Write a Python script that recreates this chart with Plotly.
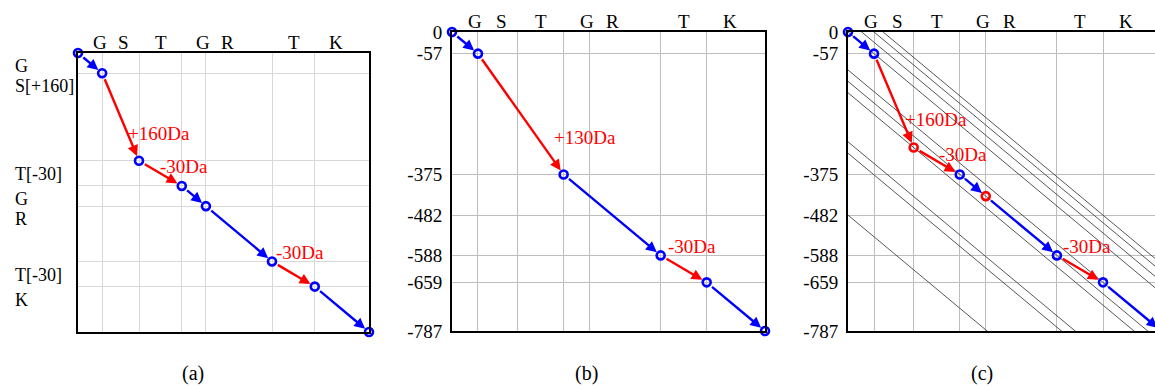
import plotly.graph_objects as go

# ---------------- data ----------------
residues = ["G", "S", "T", "G", "R", "T", "K"]
theo_prefix = [0, 57, 144, 245, 302, 458, 559, 687]      # theoretical prefix masses (x axis)
mod_prefix = [0, 57, 304, 375, 432, 588, 659, 787]       # modified prefix masses
row_labels_a = ["G", "S[+160]", "T[-30]", "G", "R", "T[-30]", "K"]
seg_colors_a = ["blue", "red", "red", "blue", "blue", "red", "blue"]
marker_colors_a = ["blue"] * 8

b_x = [0, 57, 245, 458, 559, 687]
b_y = [0, 57, 375, 588, 659, 787]
seg_colors_b = ["blue", "red", "blue", "red", "blue"]
spectrum_peaks = [0, 57, 375, 482, 588, 659, 787]

c_x = [0, 57, 144, 245, 302, 458, 559, 687]
c_y = [0, 57, 304, 375, 432, 588, 659, 787]
seg_colors_c = ["blue", "red", "red", "blue", "blue", "red", "blue"]
marker_colors_c = ["blue", "blue", "red", "blue", "red", "blue", "blue", "blue"]
diag_offsets_c = [0, -30, -57, -77, 100, 130, 160, 289, 319, 482]

# (text, segment index, anchor at 'start'/'end', xshift, yshift)
mod_labels_a = [("+160Da", 1, "end", 20, 27), ("-30Da", 2, "end", 2, 19), ("-30Da", 5, "start", 28, 9)]
mod_labels_b = [("+130Da", 1, "end", 21, 37), ("-30Da", 3, "start", 31, 9)]
mod_labels_c = [("+160Da", 1, "end", 22, 28), ("-30Da", 2, "end", 3, 20), ("-30Da", 5, "start", 30, 9)]

label_offset_x = 51   # Da offset of residue letters inside each column
label_offset_y = 37   # Da offset of row labels inside each row
captions = ["(a)", "(b)", "(c)"]

# ---------------- figure ----------------
W, H = 1155, 386
FONT = '"Liberation Serif", "DejaVu Serif", serif'
fig = go.Figure()

domains_x = [(78 / W, 369 / W), (452 / W, 765 / W), (848 / W, 1.0)]
domains_y = [((H - 332) / H, (H - 53) / H), ((H - 331) / H, (H - 32) / H), ((H - 331) / H, (H - 32) / H)]
x_ranges = [[0, 687], [0, 687], [0, 673]]
grid_cols = ["#d8d8d8", "#bdbdbd", "#bdbdbd"]

annotations = []

def add_panel(k, xs, ys, seg_colors, marker_colors, labels, diag=None):
    xa = "x" if k == 0 else f"x{k+1}"
    ya = "y" if k == 0 else f"y{k+1}"
    if diag:
        for c in diag:
            fig.add_trace(go.Scatter(x=[-900, 1700], y=[-(-900 + c), -(1700 + c)], mode="lines",
                                     line=dict(color="#444444", width=0.9), xaxis=xa, yaxis=ya,
                                     hoverinfo="skip", showlegend=False))
    for i, col in enumerate(seg_colors):
        annotations.append(dict(x=xs[i + 1], y=-ys[i + 1], ax=xs[i], ay=-ys[i], xref=xa, yref=ya,
                                axref=xa, ayref=ya, text="", showarrow=True, arrowhead=2,
                                arrowsize=0.9, arrowwidth=2.4, arrowcolor=col, standoff=5,
                                startstandoff=5))
    fig.add_trace(go.Scatter(x=xs, y=[-v for v in ys], mode="markers", xaxis=xa, yaxis=ya,
                             marker=dict(symbol="circle-open", size=8, color=marker_colors,
                                         line=dict(width=2.6)),
                             cliponaxis=False, hoverinfo="skip", showlegend=False))
    for text, si, where, dx, dy in labels:
        j = si + 1 if where == "end" else si
        annotations.append(dict(x=xs[j], y=-ys[j], xref=xa, yref=ya, text=text, showarrow=False,
                                xshift=dx, yshift=dy, font=dict(family=FONT, size=19, color="red")))
    # residue letters along the top
    for r, x0 in zip(residues, theo_prefix[:-1]):
        annotations.append(dict(x=x0 + label_offset_x, y=1.0, xref=xa, yref=f"{ya} domain",
                                text=r, showarrow=False, yanchor="bottom", yshift=-2,
                                font=dict(family=FONT, size=19, color="black")))

add_panel(0, theo_prefix, mod_prefix, seg_colors_a, marker_colors_a, mod_labels_a)
add_panel(1, b_x, b_y, seg_colors_b, ["blue"] * len(b_x), mod_labels_b)
add_panel(2, c_x, c_y, seg_colors_c, marker_colors_c, mod_labels_c, diag=diag_offsets_c)

# row labels of panel (a)
for lab, y0 in zip(row_labels_a, mod_prefix[:-1]):
    annotations.append(dict(x=13 / W, y=-(y0 + label_offset_y), xref="paper", yref="y", text=lab,
                            showarrow=False, xanchor="left",
                            font=dict(family=FONT, size=18, color="black")))

for cap, cx in zip(captions, [193, 586, 982]):
    annotations.append(dict(x=cx / W, y=(H - 373) / H, xref="paper", yref="paper", text=cap,
                            showarrow=False, xanchor="center", yanchor="middle",
                            font=dict(family=FONT, size=20, color="black")))

layout = dict(template="none", width=W, height=H, margin=dict(l=0, r=0, t=0, b=0, pad=0),
              plot_bgcolor="white", paper_bgcolor="white", showlegend=False,
              annotations=annotations, font=dict(family=FONT, size=18, color="black"))

for k in range(3):
    xk = "xaxis" if k == 0 else f"xaxis{k+1}"
    yk = "yaxis" if k == 0 else f"yaxis{k+1}"
    ya = "y" if k == 0 else f"y{k+1}"
    xa = "x" if k == 0 else f"x{k+1}"
    layout[xk] = dict(domain=list(domains_x[k]), range=x_ranges[k], anchor=ya, automargin=False,
                      tickvals=theo_prefix[1:-1], showticklabels=False, ticks="",
                      showgrid=True, gridcolor=grid_cols[k], gridwidth=1, zeroline=False,
                      showline=True, linecolor="black", linewidth=2, mirror=True)
    if k == 0:
        yt = dict(tickvals=[-v for v in mod_prefix[1:-1]], showticklabels=False)
    else:
        yt = dict(tickvals=[-v for v in spectrum_peaks], ticktext=[str(-v) for v in spectrum_peaks],
                  showticklabels=True, tickfont=dict(family=FONT, size=19, color="black"))
    layout[yk] = dict(domain=list(domains_y[k]), range=[-787, 0], anchor=xa, automargin=False,
                      ticks="outside", ticklen=4, tickcolor="rgba(0,0,0,0)",
                      showgrid=True, gridcolor=grid_cols[k], gridwidth=1, zeroline=False,
                      showline=True, linecolor="black", linewidth=2, mirror=(k != 2), **yt)

fig.update_layout(**layout)
fig.write_html("out.html", config={"displayModeBar": False, "staticPlot": True},
               post_script="document.body.style.margin='0px';document.body.style.overflow='hidden';")
